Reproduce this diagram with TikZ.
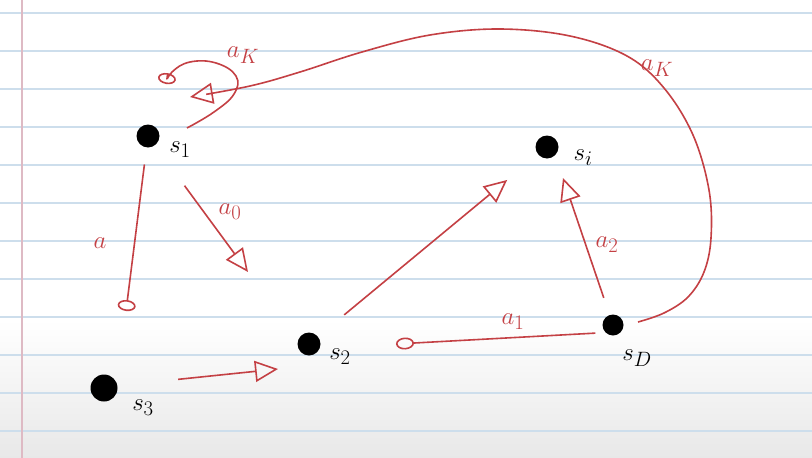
\documentclass[tikz,border=0pt]{standalone}
\usepackage{amsmath}
\usepackage{xcolor}
\usepackage{tikz}
\usetikzlibrary{arrows.meta}
\definecolor{pen}{RGB}{196,64,68}
\definecolor{rule}{RGB}{205,222,236}
\definecolor{margin}{RGB}{222,186,196}

\begin{document}
\begin{tikzpicture}[x=1pt,y=-1pt,
    state/.style={circle,fill=black,inner sep=0pt,minimum size=23pt},
    stname/.style={inner sep=0pt,font=\fontsize{30}{32}\selectfont},
    act/.style={pen,line width=1.6pt},
    actname/.style={text=pen,inner sep=0pt,font=\fontsize{28}{30}\selectfont},
    tri/.style={-{Triangle[open,length=23pt,width=21pt]}},
    blob/.style={-{Ellipse[open,length=11pt,width=18pt]}},
    sideblob/.style={-{Ellipse[open,length=18pt,width=12pt]}}]
  \useasboundingbox (0,0) rectangle (812,458);
  \fill[white] (0,0) rectangle (812,458);
  \shade[top color=white,bottom color=black!9] (0,320) rectangle (812,458);
  \foreach \y in {13,51,...,431}
    \draw[rule,line width=1.1pt] (0,\y) -- (812,\y);
  \draw[margin,line width=1.1pt] (22,0) -- (22,458);

  \node[state] (s1) at (148,136) {};
  \node[state] (si) at (547,147) {};
  \node[state] (s2) at (309,344) {};
  \node[state,minimum size=21pt] (sD) at (613,325) {};
  \node[state,minimum size=27pt] (s3) at (104,388) {};
  \node[stname] (n1) at (180,150) {$s_1$};
  \node[stname] (ni) at (583,158) {$s_i$};
  \node[stname] (n2) at (340,357) {$s_2$};
  \node[stname] (nD) at (637,358) {$s_D$};
  \node[stname] (n3) at (143,408) {$s_3$};

  \coordinate (loopstart) at (187,128);
  \coordinate (loopend) at (166,84);
  \coordinate (kstart) at (638,322);
  \coordinate (kend) at (190,97);
  \coordinate (aend) at (126,311);
  \coordinate (zend) at (248,272);
  \coordinate (oneend) at (396,344);
  \coordinate (twoend) at (563,178);
  \coordinate (threeend) at (278,369);

  \draw[act,blob] plot[smooth,tension=0.7] coordinates {(loopstart) (214,112) (234,94) (236,76) (216,63) (190,62) (172,72) (loopend)};
  \draw[act,tri] plot[smooth,tension=0.6] coordinates {(kstart) (664,313) (688,297) (704,272) (711,238) (709,190) (693,135) (664,88) (627,56) (570,36) (500,29) (430,35) (362,52) (300,72) (250,86) (kend)};
  \draw[act,blob,shorten <=17pt] (s1) -- (aend);
  \draw[act,tri,shorten <=50pt] (s1) -- (zend);
  \draw[act,sideblob,shorten <=10pt] (sD.south west) -- (oneend);
  \draw[act,tri,shorten <=34pt,shorten >=40pt] (s2) -- (si);
  \draw[act,tri,shorten <=18pt] (sD) -- (twoend);
  \draw[act,tri,shorten <=61pt] (s3.10) -- (threeend);

  \node[actname] (k1) at (243,55) {$a_K$};
  \node[actname] (k2) at (657,68) {$a_K$};
  \node[actname] (la) at (100,243) {$a$};
  \node[actname] (l0) at (230,212) {$a_0$};
  \node[actname] (l1) at (513,322) {$a_1$};
  \node[actname] (l2) at (607,245) {$a_2$};
\end{tikzpicture}
\end{document}
